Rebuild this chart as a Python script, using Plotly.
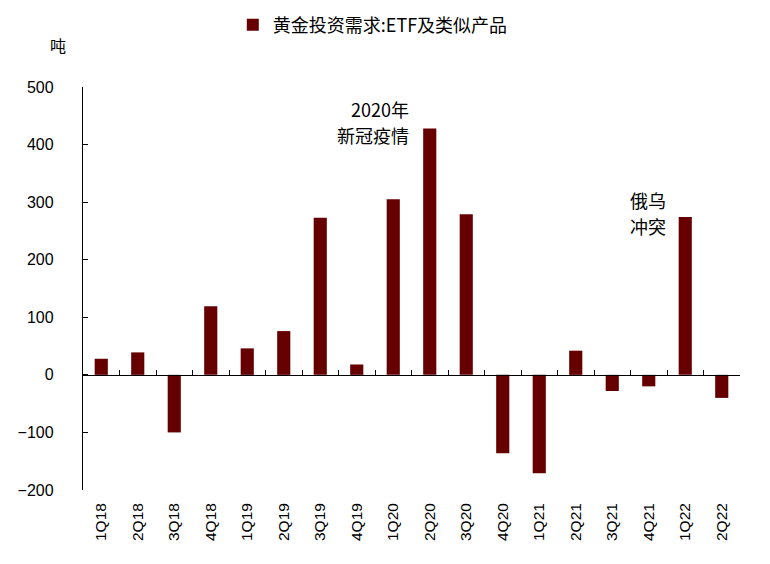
import plotly.graph_objects as go

quarters = ["1Q18", "2Q18", "3Q18", "4Q18", "1Q19", "2Q19", "3Q19", "4Q19",
            "1Q20", "2Q20", "3Q20", "4Q20", "1Q21", "2Q21", "3Q21", "4Q21",
            "1Q22", "2Q22"]
etf_demand = [28, 39, -100, 119, 46, 76, 273, 18,
              305, 428, 279, -136, -171, 42, -28, -20,
              274, -40]
y_ticks = [-200, -100, 0, 100, 200, 300, 400, 500]
series_name = "黄金投资需求:ETF及类似产品"
unit_label = "吨"
notes = [("2Q20", 461, ["2020年", "新冠疫情"], -19),
         ("1Q22", 303, ["俄乌", "冲突"], -17)]

bar_color = "#660000"
cjk = "Noto Sans CJK SC"

fig = go.Figure()
fig.add_trace(go.Bar(
    x=quarters, y=etf_demand, name=series_name,
    marker=dict(color=bar_color, line=dict(width=0)),
    xaxis="x", yaxis="y",
))
# invisible helper trace for the zero-line axis
fig.add_trace(go.Scatter(
    x=quarters, y=etf_demand, mode="none", showlegend=False,
    hoverinfo="skip", xaxis="x2", yaxis="y",
))

for q, yv, lines, xs in notes:
    for i, line in enumerate(lines):
        fig.add_annotation(
            x=q, y=yv, xref="x", yref="y", text=line, showarrow=False,
            xanchor="right", yanchor="middle", align="right",
            xshift=xs, yshift=-26 * i,
            font=dict(family=cjk, size=18, color="black"),
        )

fig.add_annotation(
    x=-0.038, y=1.104, xref="paper", yref="paper", text=unit_label,
    showarrow=False, xanchor="center", yanchor="middle",
    font=dict(family=cjk, size=16, color="black"),
)

n = len(quarters)
# page body has an 8px default margin, so the figure is offset by 8px
fig.update_layout(
    width=762, height=556,
    margin=dict(l=75, r=30, t=79, b=74, autoexpand=False),
    paper_bgcolor="white", plot_bgcolor="white",
    bargap=0.64,
    showlegend=True,
    legend=dict(orientation="h", x=0.228, xanchor="left", y=1.154,
                yanchor="middle", yref="paper", xref="paper",
                font=dict(family=cjk, size=18, color="black"),
                itemwidth=30, bgcolor="rgba(0,0,0,0)"),
    xaxis=dict(
        type="category", categoryorder="array", categoryarray=quarters,
        range=[-0.5, n - 0.5],
        showline=False, showgrid=False, zeroline=False, ticks="",
        tickangle=-90, ticklabelstandoff=9,
        tickfont=dict(family="Liberation Sans", size=15.5, color="black"),
    ),
    xaxis2=dict(
        type="category", categoryorder="array", categoryarray=quarters,
        range=[-0.5, n - 0.5],
        overlaying="x", anchor="free",
        position=(0 - y_ticks[0]) / (y_ticks[-1] - y_ticks[0]),
        showline=True, linecolor="black", linewidth=1.3,
        ticks="inside", tickson="boundaries", ticklen=5, tickcolor="black",
        showticklabels=False, showgrid=False, zeroline=False,
    ),
    yaxis=dict(
        range=[y_ticks[0], y_ticks[-1]], tickvals=y_ticks,
        showline=True, linecolor="black", linewidth=1.3,
        ticks="inside", ticklen=5, tickcolor="black",
        showgrid=False, zeroline=False,
        tickfont=dict(family="Liberation Sans", size=16, color="black"),
        ticklabelstandoff=25,
    ),
)

fig.write_html("out.html")
